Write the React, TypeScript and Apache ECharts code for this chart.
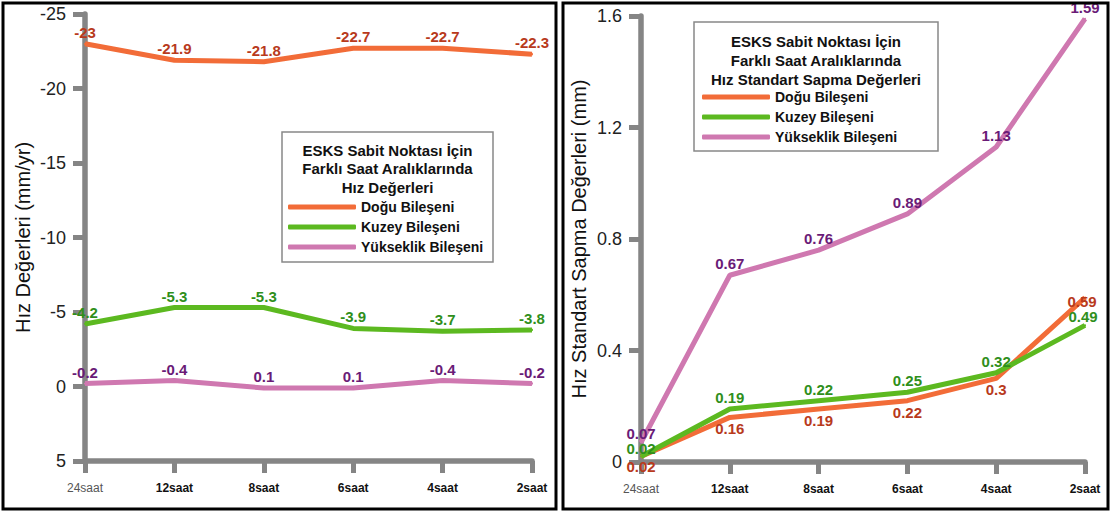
import React, { useEffect, useRef } from "react";
import * as echarts from "echarts";

const categories = ["24saat", "12saat", "8saat", "6saat", "4saat", "2saat"];
const seriesNames = ["Doğu Bileşeni", "Kuzey Bileşeni", "Yükseklik Bileşeni"];

const hizDogu = [-23, -21.9, -21.8, -22.7, -22.7, -22.3];
const hizKuzey = [-4.2, -5.3, -5.3, -3.9, -3.7, -3.8];
const hizYukseklik = [-0.2, -0.4, 0.1, 0.1, -0.4, -0.2];

const sapmaDogu = [0.02, 0.16, 0.19, 0.22, 0.3, 0.59];
const sapmaKuzey = [0.02, 0.19, 0.22, 0.25, 0.32, 0.49];
const sapmaYukseklik = [0.07, 0.67, 0.76, 0.89, 1.13, 1.59];

const FONT = "'Liberation Sans', Arial, sans-serif";
const lineColors = ["#f26c38", "#5cb920", "#cf78b0"];
const labelColors = ["#b83a1c", "#2f8f1b", "#6a1b77"];
const AXIS_GRAY = "#858585";

function xAxisCfg(gridIndex: number) {
  return {
    type: "category",
    gridIndex,
    data: categories,
    boundaryGap: false,
    axisLine: { onZero: false, lineStyle: { color: AXIS_GRAY, width: 5.5 } },
    axisTick: { length: 12, lineStyle: { color: AXIS_GRAY, width: 5 } },
    axisLabel: {
      margin: 21,
      formatter: (v: string, i: number) => (i === 0 ? `{a|${v}}` : `{b|${v}}`),
      rich: {
        a: { fontSize: 12, color: "#555", fontFamily: FONT },
        b: { fontSize: 12, color: "#111", fontWeight: "bold", fontFamily: FONT },
      },
    },
    splitLine: { show: false },
  };
}

function yAxisCfg(gridIndex: number, extra: any) {
  return {
    type: "value",
    gridIndex,
    nameLocation: "middle",
    nameRotate: 90,
    nameTextStyle: { fontSize: 20, color: "#111", fontFamily: FONT },
    axisLine: { show: true, onZero: false, lineStyle: { color: AXIS_GRAY, width: 5.5 } },
    axisTick: { show: true, length: 12, lineStyle: { color: AXIS_GRAY, width: 5 } },
    axisLabel: { fontSize: 18, color: "#222", margin: 19, fontFamily: FONT },
    splitLine: { show: false },
    ...extra,
  };
}

function lineSeries(name: string, idx: number, grid: number, data: any[], labelPos: string) {
  return {
    type: "line",
    name,
    xAxisIndex: grid,
    yAxisIndex: grid,
    data,
    symbol: "circle",
    symbolSize: 2,
    itemStyle: { color: lineColors[idx] },
    lineStyle: { color: lineColors[idx], width: 5 },
    label: {
      show: true,
      position: labelPos,
      distance: 3,
      color: labelColors[idx],
      fontSize: 15,
      fontWeight: "bold",
      fontFamily: FONT,
    },
  };
}

function withLabels(values: number[], overrides: { [k: number]: any }) {
  return values.map((v, i) => (overrides[i] ? { value: v, label: overrides[i] } : v));
}

export default function App() {
  const ref = useRef<HTMLDivElement>(null);
  useEffect(() => {
    if (!ref.current) return;
    const chart = echarts.init(ref.current, null, { renderer: "svg" });
    const legendCommon = {
      orient: "vertical",
      padding: 0,
      itemWidth: 68,
      itemHeight: 5,
      itemGap: 6,
      icon: "roundRect",
      textStyle: { fontSize: 14, fontWeight: "bold", color: "#111", fontFamily: FONT, lineHeight: 14 },
      data: seriesNames,
    };
    chart.setOption({
      animation: false,
      backgroundColor: "#fff",
      grid: [
        { left: 85, top: 14, width: 447, height: 447 },
        { left: 641, top: 16, width: 444, height: 446 },
      ],
      xAxis: [xAxisCfg(0), xAxisCfg(1)],
      yAxis: [
        yAxisCfg(0, { name: "Hız Değerleri (mm/yr)", nameGap: 52, min: -25, max: 5, interval: 5, inverse: true }),
        yAxisCfg(1, { name: "Hız Standart Sapma Değerleri (mm)", nameGap: 52, min: 0, max: 1.6, interval: 0.4 }),
      ],
      legend: [
        { ...legendCommon, left: 288, top: 200 },
        { ...legendCommon, left: 702, top: 90 },
      ],
      series: [
        lineSeries(seriesNames[0], 0, 0, hizDogu, "top"),
        lineSeries(seriesNames[1], 1, 0, hizKuzey, "top"),
        lineSeries(seriesNames[2], 2, 0, hizYukseklik, "top"),
        lineSeries(
          seriesNames[0], 0, 1,
          withLabels(sapmaDogu, {
            0: { position: "inside", offset: [0, 10] },
            5: { position: "inside", offset: [-3, 4] },
          }),
          "bottom"
        ),
        lineSeries(
          seriesNames[1], 1, 1,
          withLabels(sapmaKuzey, {
            0: { position: "inside", offset: [0, -8] },
            5: { position: "inside", offset: [-2, -9] },
          }),
          "top"
        ),
        lineSeries(
          seriesNames[2], 2, 1,
          withLabels(sapmaYukseklik, {
            0: { position: "inside", offset: [0, -9] },
          }),
          "top"
        ),
      ],
      graphic: [
        { type: "rect", shape: { x: 3, y: 3, width: 553, height: 506 }, style: { fill: "none", stroke: "#000", lineWidth: 3 }, z: 100 },
        { type: "rect", shape: { x: 563, y: 3, width: 545, height: 506 }, style: { fill: "none", stroke: "#000", lineWidth: 3 }, z: 100 },
        { type: "rect", shape: { x: 282, y: 132, width: 211, height: 130 }, style: { fill: "#fff", stroke: "#888", lineWidth: 1.5 }, z: -1 },
        { type: "rect", shape: { x: 694, y: 22, width: 244, height: 129 }, style: { fill: "#fff", stroke: "#888", lineWidth: 1.5 }, z: -1 },
        {
          type: "text", x: 387.5, y: 141, z: 100,
          style: { text: "ESKS Sabit Noktası İçin\nFarklı Saat Aralıklarında\nHız Değerleri", font: `bold 15px ${FONT}`, fill: "#111", align: "center", lineHeight: 18.5 },
        },
        {
          type: "text", x: 816, y: 32, z: 100,
          style: { text: "ESKS Sabit Noktası İçin\nFarklı Saat Aralıklarında\nHız Standart Sapma Değerleri", font: `bold 15px ${FONT}`, fill: "#111", align: "center", lineHeight: 19 },
        },
      ],
    });
    return () => chart.dispose();
  }, []);
  return <div ref={ref} style={{ position: "absolute", left: 0, top: 0, width: 1112, height: 513 }} />;
}
